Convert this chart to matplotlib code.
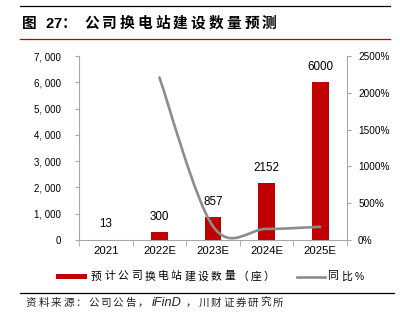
import numpy as np
import matplotlib
matplotlib.use("Agg")
import matplotlib.pyplot as plt
from matplotlib.path import Path
from matplotlib.patches import PathPatch, Rectangle
from matplotlib.lines import Line2D

# 数据
years = ["2021", "2022E", "2023E", "2024E", "2025E"]
stations = [13, 300, 857, 2152, 6000]
yoy_years = [1, 2, 3, 4]          # 同比从 2022E 开始
yoy_pct = [2208, 186, 151, 179]

W, H = 400, 323
RED = "#C00000"
GREY_LINE = "#8C8C8C"
AXIS_C = "#A6A6A6"
FONTS = ["Liberation Sans", "Noto Sans CJK SC", "DejaVu Sans"]
plt.rcParams["font.family"] = FONTS

fig = plt.figure(figsize=(W / 100, H / 100), dpi=100)


def fx(x):
    return x / W


def fy(y):
    return 1 - y / H


# 逐字放置文字（原图字距较宽）
def put_chars(x, y, text, cjk_step, latin_step, **kw):
    for ch in text:
        fig.text(fx(x), fy(y), ch, ha="left", va="center", **kw)
        x += cjk_step if ord(ch) > 0x2000 else latin_step


# 平滑曲线（类似 Excel 的平滑线）
def smooth_path(xs, ys):
    pts = np.column_stack([xs, ys]).astype(float)
    n = len(pts)
    verts = [pts[0]]
    codes = [Path.MOVETO]
    for i in range(n - 1):
        p0 = pts[i - 1] if i > 0 else pts[i]
        p1, p2 = pts[i], pts[i + 1]
        p3 = pts[i + 2] if i + 2 < n else pts[i + 1]
        verts += [p1 + (p2 - p0) / 6, p2 - (p3 - p1) / 6, p2]
        codes += [Path.CURVE4] * 3
    return Path(verts, codes)


# 坐标轴
ax = fig.add_axes([fx(79), fy(240), fx(347) - fx(79), fy(56) - fy(240)])
ax2 = ax.twinx()

x = np.arange(len(years))
ax.bar(x, stations, width=0.31, color=RED, zorder=2)
for xi, v in zip(x, stations):
    ax.annotate(str(v), (xi, v), xytext=(0, 11), textcoords="offset points",
                ha="center", va="center", fontsize=8.4)

ax.set_xlim(-0.5, len(years) - 0.5)
ax.set_ylim(0, 7000)
ax.set_yticks(np.arange(0, 7001, 1000))
ax.set_yticklabels([f"{v:,}".replace(",", ", ") for v in range(0, 7001, 1000)])
ax.set_xticks(x)
ax.set_xticklabels(years)
ax.set_xticks(np.arange(-0.5, len(years), 1), minor=True)

ax.tick_params(axis="y", direction="out", length=3, color=AXIS_C, pad=10, labelsize=7)
ax.tick_params(axis="x", which="major", length=0, pad=4, labelsize=8.2)
ax.tick_params(axis="x", which="minor", length=4, direction="out", color=AXIS_C)
for s in ["top", "right"]:
    ax.spines[s].set_visible(False)
for s in ["left", "bottom"]:
    ax.spines[s].set_color(AXIS_C)

ax2.add_patch(PathPatch(smooth_path(yoy_years, yoy_pct), fill=False,
                        edgecolor=GREY_LINE, lw=1.9, capstyle="round"))
ax2.set_ylim(0, 2500)
ax2.set_yticks(np.arange(0, 2501, 500))
ax2.set_yticklabels([f"{v}%" for v in range(0, 2501, 500)])
ax2.tick_params(axis="y", direction="out", length=3, color=AXIS_C, pad=5, labelsize=7.2)
for s in ["top", "left", "bottom"]:
    ax2.spines[s].set_visible(False)
ax2.spines["right"].set_color(AXIS_C)

# 标题与分隔线
fig.add_artist(Line2D([fx(20), fx(390)], [fy(6), fy(6)], color="black", lw=0.9))
fig.add_artist(Line2D([fx(20), fx(390)], [fy(39), fy(39)], color=RED, lw=0.9))
put_chars(22, 24, "图", 17.8, 8.2, fontsize=10.6, fontweight="bold")
put_chars(45, 24, "27：", 17.8, 8.2, fontsize=10.6, fontweight="bold")
put_chars(84, 24, "公司换电站建设数量预测", 17.8, 8.2, fontsize=10.6, fontweight="bold")

# 图例
fig.add_artist(Rectangle((fx(56), fy(279)), fx(87) - fx(56), fy(274) - fy(279),
                         transform=fig.transFigure, color=RED, lw=0))
put_chars(91, 276.5, "预计公司换电站建设数量（座）", 13.3, 7, fontsize=7.8)
fig.add_artist(Line2D([fx(297), fx(325)], [fy(276.5), fy(276.5)], color=GREY_LINE, lw=1.9))
put_chars(327, 276.5, "同比", 14, 7, fontsize=7.8)
put_chars(355, 276.5, "%", 14, 7, fontsize=7.4)

# 资料来源
SRC = dict(fontsize=7.6, color="#222222")
fig.add_artist(Line2D([fx(20), fx(394)], [fy(293), fy(293)], color="black", lw=0.9))
put_chars(26, 303, "资料来源：公司公告，", 12.4, 6.8, **SRC)
fig.text(fx(152), fy(303), "iFinD", ha="left", va="center", style="italic",
         fontsize=9.2, color="#222222")
put_chars(186, 303, "，川财证券研究所", 12.4, 6.8, **SRC)

fig.savefig("out.png", dpi=100)
